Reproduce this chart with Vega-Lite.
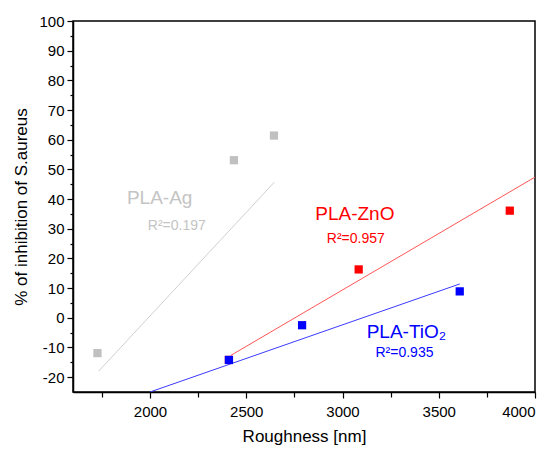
{
  "$schema": "https://vega.github.io/schema/vega-lite/v6.json",
  "width": 462,
  "height": 371,
  "autosize": {"type": "none"},
  "padding": {"left": 73, "top": 21, "right": 17, "bottom": 58},
  "background": "white",
  "config": {
    "view": {"stroke": "#000", "strokeWidth": 1.5},
    "font": "Liberation Sans",
    "axis": {
      "grid": false,
      "domainColor": "#000",
      "domainWidth": 1.5,
      "tickColor": "#000",
      "tickWidth": 1.2,
      "labelFont": "Liberation Sans",
      "labelFontSize": 15,
      "labelColor": "#000",
      "titleFont": "Liberation Sans",
      "titleFontSize": 17,
      "titleFontWeight": "normal",
      "titleColor": "#000"
    }
  },
  "datasets": {
    "lines": [
      {"series": "PLA-Ag", "roughness": 1733, "inhibition": -18.0},
      {"series": "PLA-Ag", "roughness": 2646, "inhibition": 45.7},
      {"series": "PLA-ZnO", "roughness": 2419, "inhibition": -12.7},
      {"series": "PLA-ZnO", "roughness": 4000, "inhibition": 47.4},
      {"series": "PLA-TiO2", "roughness": 2000, "inhibition": -25.0},
      {"series": "PLA-TiO2", "roughness": 3609, "inhibition": 11.4}
    ],
    "points": [
      {"series": "PLA-Ag", "roughness": 1727, "inhibition": -11.9},
      {"series": "PLA-Ag", "roughness": 2436, "inhibition": 53.1},
      {"series": "PLA-Ag", "roughness": 2644, "inhibition": 61.4},
      {"series": "PLA-ZnO", "roughness": 2410, "inhibition": -14.2},
      {"series": "PLA-ZnO", "roughness": 3084, "inhibition": 16.3},
      {"series": "PLA-ZnO", "roughness": 3869, "inhibition": 36.1},
      {"series": "PLA-TiO2", "roughness": 2410, "inhibition": -14.2},
      {"series": "PLA-TiO2", "roughness": 2790, "inhibition": -2.5},
      {"series": "PLA-TiO2", "roughness": 3609, "inhibition": 8.9}
    ],
    "names": [
      {"series": "PLA-Ag", "label": "PLA-Ag", "roughness": 2050, "inhibition": 40.3},
      {"series": "PLA-ZnO", "label": "PLA-ZnO", "roughness": 3064, "inhibition": 34.9},
      {"series": "PLA-TiO2", "label": "PLA-TiO₂", "roughness": 3332, "inhibition": -4.7}
    ],
    "r2": [
      {"series": "PLA-Ag", "label": "R²=0.197", "roughness": 2139, "inhibition": 31.0},
      {"series": "PLA-ZnO", "label": "R²=0.957", "roughness": 3069, "inhibition": 26.7},
      {"series": "PLA-TiO2", "label": "R²=0.935", "roughness": 3322, "inhibition": -11.7}
    ]
  },
  "layer": [
    {
      "data": {"name": "lines"},
      "mark": {"type": "line", "strokeWidth": 1, "clip": true},
      "encoding": {
        "x": {
          "field": "roughness", "type": "quantitative",
          "scale": {"domain": [1600, 4000], "nice": false, "zero": false},
          "axis": {"orient": "bottom", "values": [2000, 2500, 3000, 3500, 4000], "format": "d", "tickSize": 6, "labelPadding": 6, "title": "Roughness [nm]", "titlePadding": 9}
        },
        "y": {
          "field": "inhibition", "type": "quantitative",
          "scale": {"domain": [-25, 100], "nice": false, "zero": false},
          "axis": {"orient": "left", "values": [-20, -10, 0, 10, 20, 30, 40, 50, 60, 70, 80, 90, 100], "labelExpr": "datum.value < 0 ? '-' + abs(datum.value) : '' + datum.value", "tickSize": 6, "labelPadding": 3, "title": "% of inhibition of S.aureus", "titlePadding": 8}
        },
        "color": {
          "field": "series", "type": "nominal",
          "scale": {"domain": ["PLA-Ag", "PLA-ZnO", "PLA-TiO2"], "range": ["#cfcfcf", "#ff5555", "#3a3aff"]},
          "legend": null
        }
      }
    },
    {
      "data": {"name": "points"},
      "mark": {"type": "point", "shape": "square", "filled": true, "opacity": 1, "size": 68},
      "encoding": {
        "x": {
          "field": "roughness", "type": "quantitative",
          "axis": {"orient": "bottom", "values": [1750, 2250, 2750, 3250, 3750], "tickSize": 5, "labels": false, "domain": false, "title": null}
        },
        "y": {
          "field": "inhibition", "type": "quantitative",
          "axis": {"orient": "left", "values": [-15, -5, 5, 15, 25, 35, 45, 55, 65, 75, 85, 95], "tickSize": 3, "labels": false, "domain": false, "title": null}
        },
        "color": {
          "field": "series", "type": "nominal",
          "scale": {"domain": ["PLA-Ag", "PLA-ZnO", "PLA-TiO2"], "range": ["#c0c0c0", "#ff0000", "#0000ff"]},
          "legend": null
        }
      }
    },
    {
      "data": {"name": "names"},
      "mark": {"type": "text", "fontSize": 19, "font": "Liberation Sans", "align": "center", "baseline": "middle"},
      "encoding": {
        "x": {"field": "roughness", "type": "quantitative", "axis": null},
        "y": {"field": "inhibition", "type": "quantitative", "axis": null},
        "text": {"field": "label"},
        "color": {
          "field": "series", "type": "nominal",
          "scale": {"domain": ["PLA-Ag", "PLA-ZnO", "PLA-TiO2"], "range": ["#c4c4c4", "#ff0000", "#0000ff"]},
          "legend": null
        }
      }
    },
    {
      "data": {"name": "r2"},
      "mark": {"type": "text", "fontSize": 14, "font": "Liberation Sans", "align": "center", "baseline": "middle"},
      "encoding": {
        "x": {"field": "roughness", "type": "quantitative", "axis": null},
        "y": {"field": "inhibition", "type": "quantitative", "axis": null},
        "text": {"field": "label"},
        "color": {
          "field": "series", "type": "nominal",
          "scale": {"domain": ["PLA-Ag", "PLA-ZnO", "PLA-TiO2"], "range": ["#c4c4c4", "#ff0000", "#0000ff"]},
          "legend": null
        }
      }
    }
  ],
  "resolve": {
    "axis": {"x": "independent", "y": "independent"},
    "scale": {"color": "independent"}
  }
}
